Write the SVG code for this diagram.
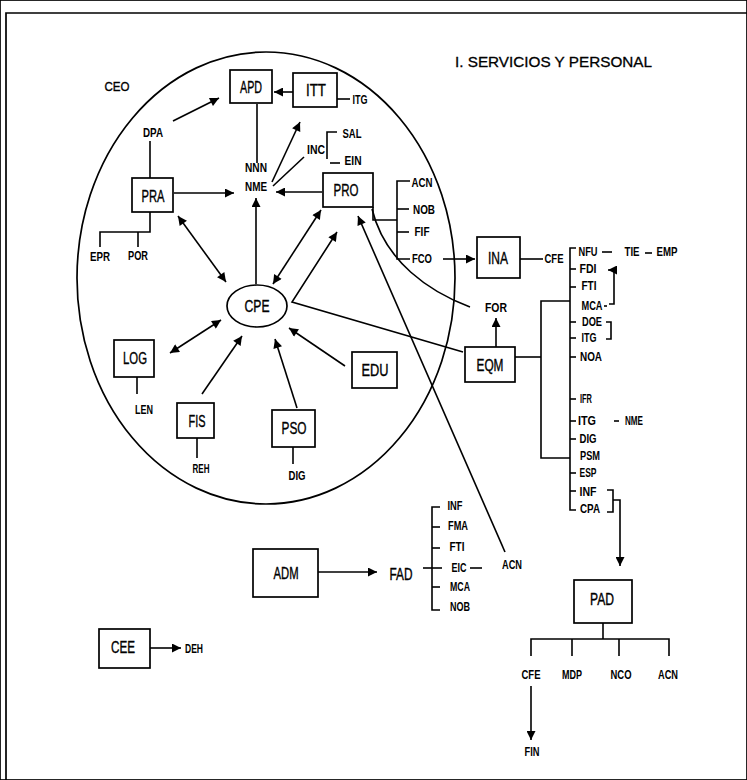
<svg xmlns="http://www.w3.org/2000/svg" width="747" height="780" viewBox="0 0 747 780">
<style>
rect,ellipse.n{fill:#fff;stroke:#000;stroke-width:1.7}
.c line,.c path,.c polyline{fill:none;stroke:#000;stroke-width:1.6}
.frame{fill:none;stroke:#000;stroke-width:1.7}
text{font-family:"Liberation Sans Narrow","Liberation Sans",Arial,sans-serif;fill:#000;text-anchor:middle}
.b{font-size:16px;stroke:#000;stroke-width:0.35}
.s{font-size:12px;font-weight:bold}
.t{font-size:15px;text-anchor:start;stroke:#000;stroke-width:0.3}
</style>
<defs>
<marker id="ah" viewBox="0 0 10 10" refX="10" refY="5" markerWidth="11" markerHeight="9" markerUnits="userSpaceOnUse" orient="auto-start-reverse"><path d="M0,0 L10,5 L0,10 z" fill="#000"/></marker>
</defs>
<rect x="0" y="0" width="747" height="780" fill="#fff" stroke="none"/>
<path class="frame" d="M6,780 V13 H747"/>
<text class="t" x="455" y="67" textLength="197" lengthAdjust="spacingAndGlyphs">I. SERVICIOS Y PERSONAL</text>
<g class="c" id="connectors">
<ellipse cx="266" cy="278" rx="189" ry="226" fill="none" stroke="#000" stroke-width="1.7"/>
<line x1="293" y1="92" x2="274" y2="92" marker-end="url(#ah)"/>
<line x1="337" y1="99" x2="350" y2="99"/>
<line x1="173" y1="121" x2="219" y2="98" marker-end="url(#ah)"/>
<line x1="150" y1="141" x2="150" y2="178"/>
<line x1="174" y1="193" x2="234" y2="193" marker-end="url(#ah)"/>
<line x1="257" y1="104" x2="257" y2="163"/>
<line x1="272" y1="182" x2="300" y2="122" marker-end="url(#ah)"/>
<line x1="273" y1="186" x2="304" y2="157"/>
<path d="M337,132 H327 V159"/>
<line x1="330" y1="163" x2="340" y2="163"/>
<line x1="322" y1="192" x2="276" y2="192" marker-end="url(#ah)"/>
<path d="M373,207 V220 H397"/>
<path d="M410,181 H397 V259 H410"/>
<line x1="397" y1="209" x2="409" y2="209"/>
<line x1="397" y1="232" x2="409" y2="232"/>
<line x1="443" y1="259" x2="475" y2="259" marker-end="url(#ah)"/>
<line x1="520" y1="259" x2="543" y2="259"/>
<path d="M576,248 H570 V510 H576"/>
<line x1="570" y1="269" x2="576" y2="269"/>
<line x1="570" y1="287" x2="576" y2="287"/>
<line x1="570" y1="322" x2="576" y2="322"/>
<line x1="570" y1="338" x2="576" y2="338"/>
<line x1="570" y1="357" x2="576" y2="357"/>
<line x1="570" y1="399" x2="576" y2="399"/>
<line x1="570" y1="421" x2="576" y2="421"/>
<line x1="570" y1="439" x2="576" y2="439"/>
<line x1="570" y1="473" x2="576" y2="473"/>
<line x1="570" y1="491" x2="576" y2="491"/>
<line x1="602" y1="252" x2="612" y2="252"/>
<line x1="645" y1="253" x2="652" y2="253"/>
<line x1="604" y1="306" x2="607" y2="306"/>
<path d="M609,304 H614 V270 H608" marker-end="url(#ah)"/>
<path d="M606,322 H611 V339 H606"/>
<line x1="614" y1="421" x2="619" y2="421"/>
<path d="M570,301 H541 V458 H570"/>
<line x1="515" y1="357" x2="541" y2="357"/>
<path d="M607,490 H613 V512 H607"/>
<path d="M613,500 H620 V566" marker-end="url(#ah)"/>
<line x1="603" y1="623" x2="603" y2="639"/>
<path d="M531,656 V639 H669 V656"/>
<line x1="572" y1="639" x2="572" y2="656"/>
<line x1="619" y1="639" x2="619" y2="656"/>
<line x1="531" y1="686" x2="531" y2="740" marker-end="url(#ah)"/>
<line x1="496" y1="347" x2="496" y2="318" marker-end="url(#ah)"/>
<path d="M470,307 C430,292 385,262 372,209"/>
<line x1="505" y1="552" x2="358" y2="216" marker-end="url(#ah)"/>
<path d="M463,352 L292,302 L337,232" marker-end="url(#ah)"/>
<line x1="273" y1="284" x2="321" y2="210" marker-start="url(#ah)" marker-end="url(#ah)"/>
<line x1="256" y1="284" x2="256" y2="198" marker-end="url(#ah)"/>
<line x1="178" y1="216" x2="226" y2="282" marker-start="url(#ah)" marker-end="url(#ah)"/>
<line x1="170" y1="353" x2="221" y2="320" marker-start="url(#ah)" marker-end="url(#ah)"/>
<line x1="202" y1="394" x2="242" y2="336" marker-end="url(#ah)"/>
<line x1="297" y1="408" x2="275" y2="339" marker-end="url(#ah)"/>
<line x1="345" y1="366" x2="289" y2="328" marker-end="url(#ah)"/>
<line x1="137" y1="377" x2="137" y2="394"/>
<line x1="197" y1="438" x2="197" y2="458"/>
<line x1="293" y1="447" x2="293" y2="464"/>
<path d="M150,212 V232 H100 V247"/>
<line x1="138" y1="232" x2="138" y2="247"/>
<line x1="318" y1="572" x2="377" y2="572" marker-end="url(#ah)"/>
<path d="M440,507 H432 V610 H440"/>
<line x1="423" y1="568" x2="442" y2="568"/>
<line x1="432" y1="527" x2="440" y2="527"/>
<line x1="432" y1="548" x2="440" y2="548"/>
<line x1="432" y1="587" x2="440" y2="587"/>
<line x1="470" y1="568" x2="482" y2="568"/>
<line x1="150" y1="648" x2="181" y2="648" marker-end="url(#ah)"/>
</g>
<g id="APD"><rect x="230" y="70" width="42" height="33"/><text class="b" x="251" y="93" textLength="22" lengthAdjust="spacingAndGlyphs">APD</text></g>
<g id="ITT"><rect x="293" y="73" width="44" height="34"/><text class="b" x="316" y="96" textLength="20" lengthAdjust="spacingAndGlyphs">ITT</text></g>
<g id="PRA"><rect x="132" y="178" width="41" height="34"/><text class="b" x="153" y="202" textLength="23" lengthAdjust="spacingAndGlyphs">PRA</text></g>
<g id="PRO"><rect x="323" y="173" width="50" height="34"/><text class="b" x="346" y="196" textLength="25" lengthAdjust="spacingAndGlyphs">PRO</text></g>
<g id="INA"><rect x="477" y="237" width="43" height="41"/><text class="b" x="498" y="264" textLength="20" lengthAdjust="spacingAndGlyphs">INA</text></g>
<g id="EQM"><rect x="465" y="347" width="50" height="35"/><text class="b" x="490" y="371" textLength="27" lengthAdjust="spacingAndGlyphs">EQM</text></g>
<g id="EDU"><rect x="352" y="352" width="45" height="36"/><text class="b" x="375" y="376" textLength="27" lengthAdjust="spacingAndGlyphs">EDU</text></g>
<g id="LOG"><rect x="114" y="340" width="40" height="37"/><text class="b" x="135" y="364" textLength="24" lengthAdjust="spacingAndGlyphs">LOG</text></g>
<g id="FIS"><rect x="177" y="403" width="37" height="35"/><text class="b" x="197" y="427" textLength="17" lengthAdjust="spacingAndGlyphs">FIS</text></g>
<g id="PSO"><rect x="272" y="410" width="43" height="37"/><text class="b" x="294" y="434" textLength="25" lengthAdjust="spacingAndGlyphs">PSO</text></g>
<g id="CPE"><ellipse class="n" cx="257" cy="306" rx="30" ry="21"/><text class="b" x="257" y="312" textLength="25" lengthAdjust="spacingAndGlyphs">CPE</text></g>
<g id="ADM"><rect x="253" y="549" width="65" height="48"/><text class="b" x="286" y="579" textLength="25" lengthAdjust="spacingAndGlyphs">ADM</text></g>
<g id="PAD"><rect x="574" y="580" width="58" height="43"/><text class="b" x="602" y="605" textLength="24" lengthAdjust="spacingAndGlyphs">PAD</text></g>
<g id="CEE"><rect x="99" y="629" width="51" height="39"/><text class="b" x="123" y="653" textLength="24" lengthAdjust="spacingAndGlyphs">CEE</text></g>
<g id="FAD"><text class="b" x="401" y="580" textLength="23" lengthAdjust="spacingAndGlyphs">FAD</text></g>
<g id="CEO"><text class="b" x="117" y="91" style="font-size:13px" textLength="25" lengthAdjust="spacingAndGlyphs">CEO</text></g>
<g id="ITG1"><text class="s" x="360" y="104" textLength="15" lengthAdjust="spacingAndGlyphs">ITG</text></g>
<g id="DPA"><text class="s" x="153" y="137" textLength="20" lengthAdjust="spacingAndGlyphs">DPA</text></g>
<g id="NNN"><text class="s" x="256" y="172" textLength="22" lengthAdjust="spacingAndGlyphs">NNN</text><text class="s" x="256" y="191" textLength="22" lengthAdjust="spacingAndGlyphs">NME</text></g>
<g id="INC"><text class="s" x="316" y="154" textLength="18" lengthAdjust="spacingAndGlyphs">INC</text></g>
<g id="SAL"><text class="s" x="352" y="138" textLength="19" lengthAdjust="spacingAndGlyphs">SAL</text></g>
<g id="EIN"><text class="s" x="353" y="165" textLength="17" lengthAdjust="spacingAndGlyphs">EIN</text></g>
<g id="ACN1"><text class="s" x="422" y="187" textLength="21" lengthAdjust="spacingAndGlyphs">ACN</text></g>
<g id="NOB1"><text class="s" x="424" y="214" textLength="22" lengthAdjust="spacingAndGlyphs">NOB</text></g>
<g id="FIF"><text class="s" x="422" y="236" textLength="15" lengthAdjust="spacingAndGlyphs">FIF</text></g>
<g id="FCO"><text class="s" x="422" y="263" textLength="20" lengthAdjust="spacingAndGlyphs">FCO</text></g>
<g id="CFE1"><text class="s" x="554" y="263" textLength="19" lengthAdjust="spacingAndGlyphs">CFE</text></g>
<g id="EPR"><text class="s" x="100" y="261" textLength="20" lengthAdjust="spacingAndGlyphs">EPR</text></g>
<g id="POR"><text class="s" x="138" y="260" textLength="20" lengthAdjust="spacingAndGlyphs">POR</text></g>
<g id="LEN"><text class="s" x="144" y="414" textLength="18" lengthAdjust="spacingAndGlyphs">LEN</text></g>
<g id="REH"><text class="s" x="201" y="473" textLength="17" lengthAdjust="spacingAndGlyphs">REH</text></g>
<g id="DIG1"><text class="s" x="297" y="480" textLength="17" lengthAdjust="spacingAndGlyphs">DIG</text></g>
<g id="FOR"><text class="s" x="496" y="312" textLength="22" lengthAdjust="spacingAndGlyphs">FOR</text></g>
<g id="NFU"><text class="s" x="588" y="256" textLength="19" lengthAdjust="spacingAndGlyphs">NFU</text></g>
<g id="TIE"><text class="s" x="632" y="256" textLength="15" lengthAdjust="spacingAndGlyphs">TIE</text></g>
<g id="EMP"><text class="s" x="667" y="256" textLength="21" lengthAdjust="spacingAndGlyphs">EMP</text></g>
<g id="FDI"><text class="s" x="588" y="273" textLength="17" lengthAdjust="spacingAndGlyphs">FDI</text></g>
<g id="FTI1"><text class="s" x="589" y="290" textLength="15" lengthAdjust="spacingAndGlyphs">FTI</text></g>
<g id="MCA1"><text class="s" x="592" y="310" textLength="21" lengthAdjust="spacingAndGlyphs">MCA</text></g>
<g id="DOE"><text class="s" x="592" y="326" textLength="20" lengthAdjust="spacingAndGlyphs">DOE</text></g>
<g id="ITG2"><text class="s" x="589" y="342" textLength="15" lengthAdjust="spacingAndGlyphs">ITG</text></g>
<g id="NOA"><text class="s" x="591" y="361" textLength="22" lengthAdjust="spacingAndGlyphs">NOA</text></g>
<g id="IFR"><text class="s" x="586" y="403" textLength="12" lengthAdjust="spacingAndGlyphs">IFR</text></g>
<g id="ITG3"><text class="s" x="587" y="425" textLength="18" lengthAdjust="spacingAndGlyphs">ITG</text></g>
<g id="NME2"><text class="s" x="634" y="425" textLength="18" lengthAdjust="spacingAndGlyphs">NME</text></g>
<g id="DIG2"><text class="s" x="588" y="443" textLength="17" lengthAdjust="spacingAndGlyphs">DIG</text></g>
<g id="PSM"><text class="s" x="590" y="460" textLength="20" lengthAdjust="spacingAndGlyphs">PSM</text></g>
<g id="ESP"><text class="s" x="588" y="477" textLength="17" lengthAdjust="spacingAndGlyphs">ESP</text></g>
<g id="INF1"><text class="s" x="588" y="496" textLength="17" lengthAdjust="spacingAndGlyphs">INF</text></g>
<g id="CPA"><text class="s" x="590" y="513" textLength="20" lengthAdjust="spacingAndGlyphs">CPA</text></g>
<g id="INF2"><text class="s" x="455" y="510" textLength="15" lengthAdjust="spacingAndGlyphs">INF</text></g>
<g id="FMA"><text class="s" x="458" y="530" textLength="20" lengthAdjust="spacingAndGlyphs">FMA</text></g>
<g id="FTI2"><text class="s" x="457" y="551" textLength="15" lengthAdjust="spacingAndGlyphs">FTI</text></g>
<g id="EIC"><text class="s" x="459" y="572" textLength="15" lengthAdjust="spacingAndGlyphs">EIC</text></g>
<g id="MCA2"><text class="s" x="460" y="591" textLength="20" lengthAdjust="spacingAndGlyphs">MCA</text></g>
<g id="NOB2"><text class="s" x="460" y="611" textLength="20" lengthAdjust="spacingAndGlyphs">NOB</text></g>
<g id="ACN2"><text class="s" x="512" y="569" textLength="20" lengthAdjust="spacingAndGlyphs">ACN</text></g>
<g id="CFE2"><text class="s" x="531" y="679" textLength="19" lengthAdjust="spacingAndGlyphs">CFE</text></g>
<g id="MDP"><text class="s" x="572" y="679" textLength="20" lengthAdjust="spacingAndGlyphs">MDP</text></g>
<g id="NCO"><text class="s" x="621" y="679" textLength="21" lengthAdjust="spacingAndGlyphs">NCO</text></g>
<g id="ACN3"><text class="s" x="668" y="679" textLength="20" lengthAdjust="spacingAndGlyphs">ACN</text></g>
<g id="FIN"><text class="s" x="532" y="756" textLength="15" lengthAdjust="spacingAndGlyphs">FIN</text></g>
<g id="DEH"><text class="s" x="194" y="653" textLength="18" lengthAdjust="spacingAndGlyphs">DEH</text></g>
</svg>
